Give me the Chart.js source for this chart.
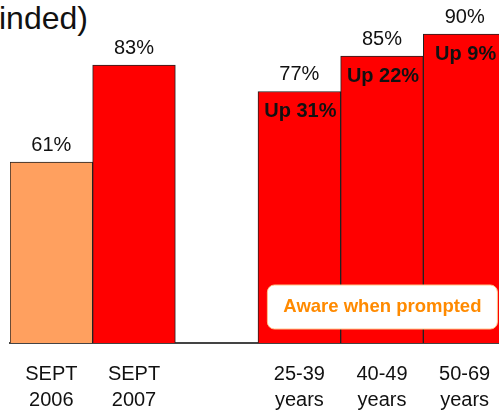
<!DOCTYPE html>
<html><head><meta charset="utf-8">
<script src="https://cdn.jsdelivr.net/npm/chart.js@4/dist/chart.umd.min.js"></script>
<style>
html,body{margin:0;padding:0;width:499px;height:416px;overflow:hidden;background:#fff;}
#wrap{position:absolute;left:0;top:-10px;width:520px;height:426px;}
#title{position:absolute;left:-1px;top:2px;font:32px 'Liberation Sans',Arial,sans-serif;line-height:32px;color:#111;white-space:nowrap;}
</style></head><body>
<div id="title">inded)</div>
<div id="wrap"><canvas id="c" width="520" height="426"></canvas></div>
<script>
const categories = [["SEPT","2006"],["SEPT","2007"],"",["25-39","years"],["40-49","years"],["50-69","years"]];
const values = [61, 83, null, 77, 85, 90];
const changes = [null, null, null, 31, 22, 9];
const legendText = "Aware when prompted";

const barColors = ['#FFA05F','#FF0000','#FF0000','#FF0000','#FF0000','#FF0000'];
const FONT = "'Liberation Sans', Arial, sans-serif";

function roundRect(ctx,x,y,w,h,r){
  ctx.beginPath();
  ctx.moveTo(x+r,y);ctx.lineTo(x+w-r,y);ctx.arcTo(x+w,y,x+w,y+r,r);
  ctx.lineTo(x+w,y+h-r);ctx.arcTo(x+w,y+h,x+w-r,y+h,r);
  ctx.lineTo(x+r,y+h);ctx.arcTo(x,y+h,x,y+h-r,r);
  ctx.lineTo(x,y+r);ctx.arcTo(x,y,x+r,y,r);ctx.closePath();
}

const labelPlugin = {
  id:'labels',
  afterDatasetsDraw(chart){
    const ctx = chart.ctx, meta = chart.getDatasetMeta(0), ca = chart.chartArea;
    ctx.save();
    meta.data.forEach((bar,i)=>{
      const v = values[i];
      if (v == null) return;
      ctx.fillStyle = '#111';
      ctx.textAlign = 'center';
      ctx.textBaseline = 'alphabetic';
      ctx.font = '20px ' + FONT;
      ctx.fillText(v + '%', bar.x, bar.y - 11.5);
      if (changes[i] != null) {
        ctx.font = 'bold 20px ' + FONT;
        ctx.textBaseline = 'middle';
        ctx.fillText('Up ' + changes[i] + '%', bar.x + 1, bar.y + 20);
      }
    });
    // legend-like box
    const w = 230, h = 44;
    const x = ca.right - 8.6 - w, y = ca.bottom - 14 - h;
    roundRect(ctx, x, y, w, h, 7);
    ctx.fillStyle = '#fff'; ctx.fill();
    ctx.strokeStyle = '#FFC58A'; ctx.lineWidth = 1; ctx.stroke();
    ctx.fillStyle = '#FF8A00';
    ctx.font = 'bold 18.5px ' + FONT;
    ctx.textAlign = 'center'; ctx.textBaseline = 'middle';
    ctx.fillText(legendText, x + w/2, y + h/2);
    ctx.restore();
  }
};

new Chart(document.getElementById('c'), {
  type:'bar',
  data:{
    labels: categories,
    datasets:[{
      data: values,
      backgroundColor: barColors,
      borderColor: '#222',
      borderWidth: 1,
      barPercentage: 1,
      categoryPercentage: 1
    }]
  },
  options:{
    responsive:false,
    animation:false,
    events:[],
    layout:{padding:{left:10,right:14,top:0,bottom:0}},
    plugins:{legend:{display:false},tooltip:{enabled:false},title:{display:false}},
    scales:{
      y:{display:false,min:20,max:100},
      x:{
        grid:{display:false,drawTicks:false},
        border:{display:true,color:'#444',width:2},
        ticks:{color:'#111',padding:18,font:{family:FONT,size:20,lineHeight:1.3},maxRotation:0,autoSkip:false},
        afterFit(scale){ scale.height = 73; }
      }
    }
  },
  plugins:[labelPlugin]
});
</script>
</body></html>
